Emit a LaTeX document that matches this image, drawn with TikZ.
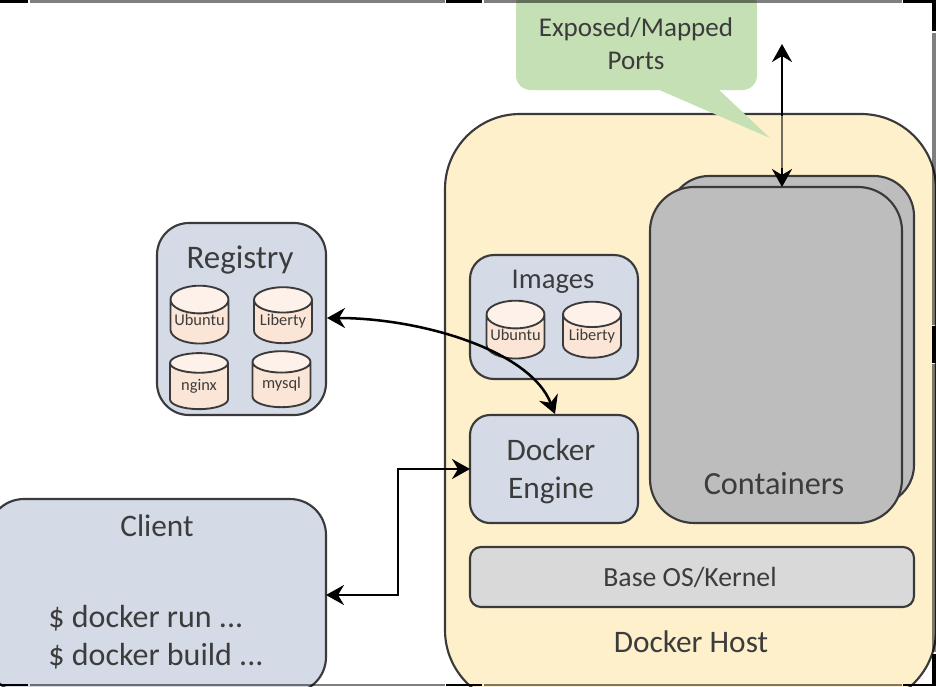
\documentclass[tikz,border=0pt]{standalone}
\usepackage{fontspec}
\setmainfont{Carlito}
\usetikzlibrary{arrows.meta,shapes.geometric,positioning}
\definecolor{hostc}{HTML}{FFF0CC}
\definecolor{bluec}{HTML}{D5DBE6}
\definecolor{peachc}{HTML}{FBE5D6}
\definecolor{peachl}{HTML}{FDF1EA}
\definecolor{greenc}{HTML}{C5E0B4}
\definecolor{contc}{HTML}{BDBDBD}
\definecolor{basec}{HTML}{D9D9D9}
\definecolor{linec}{HTML}{3A3A3A}
\definecolor{textc}{HTML}{3C3C3C}
\newcommand{\dbtext}[1]{\raisebox{3pt}{#1}}
\tikzset{
  x=0.75pt,y=-0.75pt,
  base/.style={draw=linec,line width=1.6pt,text=textc,inner sep=0pt,align=center},
  box/.style n args={4}{base,rectangle,fill=#1,minimum width=#2*0.75pt,minimum height=#3*0.75pt,rounded corners=#4*0.75pt},
  db/.style={base,cylinder,shape border rotate=90,aspect=0.55,cylinder uses custom fill,
     cylinder body fill=peachc,cylinder end fill=peachl,minimum width=58*0.75pt,minimum height=56*0.75pt,
     font=\fontsize{12.3pt}{13pt}\selectfont,line width=1.4pt},
  lbl/.style={text=textc,inner sep=0pt,align=center},
  big/.style={font=\fontsize{23.5pt}{28.5pt}\selectfont},
  conn/.style={draw=black,line width=1.9pt,{Stealth[length=13.5pt,width=15pt,inset=4.5pt]}-{Stealth[length=13.5pt,width=15pt,inset=4.5pt]}},
  frame/.style={fill=black,opacity=0.5},
  handle/.style={fill=black},
}
\begin{document}
\begin{tikzpicture}
\useasboundingbox (0,0) rectangle (936,686);
\clip (0,0) rectangle (936,686);
\fill[white] (0,0) rectangle (936,686);

% host
\node[box={hostc}{491}{591}{75}] (host) at (690.5,409.5) {};
\node[lbl,big] (hosttxt) at (691,642) {Docker Host};

% callout
\coordinate (tailA) at (657,89);
\coordinate (tailB) at (770,138);
\coordinate (tailC) at (718,89);
\fill[greenc] (tailA) -- (tailB) -- (tailC) -- cycle;
\node[rectangle,fill=greenc,rounded corners=11pt,minimum width=241*0.75pt,minimum height=100*0.75pt,inner sep=0pt] (callout) at (636.5,40) {};
\node[lbl,font=\fontsize{20.3pt}{25pt}\selectfont] (callouttxt) at (636,44) {Exposed/Mapped\\Ports};

% containers
\node[box={contc}{245}{329}{40}] (contback) at (791.5,340.5) {};
\node[box={contc}{252}{336}{44}] (contfront) at (776,355) {};
\node[lbl,font=\fontsize{24.2pt}{28pt}\selectfont] (conttxt) at (774,484) {Containers};

% base
\node[box={basec}{444}{60}{11}] (baseos) at (692,577) {};
\node[lbl,font=\fontsize{20.8pt}{24pt}\selectfont] (basetxt) at (690,577) {Base OS/Kernel};

% images
\node[box={bluec}{168}{124}{24}] (images) at (554,317) {};
\node[lbl,font=\fontsize{21.5pt}{24pt}\selectfont] (imagestxt) at (553,282) {Images};
\node[db] (imgU) at (515.5,337) {\dbtext{Ubuntu}};
\node[db] (imgL) at (592,336.5) {\dbtext{Liberty}};

% engine
\node[box={bluec}{168}{108}{20}] (engine) at (554,469) {};
\node[lbl,big] (enginetxt) at (551,471) {Docker\\Engine};

% registry
\node[box={bluec}{169}{192}{32}] (registry) at (241.5,319) {};
\node[lbl,font=\fontsize{24.7pt}{28pt}\selectfont] (regtxt) at (240,260) {Registry};
\node[db] (regU) at (199.5,322) {\dbtext{Ubuntu}};
\node[db] (regL) at (283,322) {\dbtext{Liberty}};
\node[db] (regN) at (199,386.5) {\dbtext{nginx}};
\node[db] (regM) at (281.5,385) {\dbtext{mysql}};

% client
\node[box={bluec}{338}{194}{36}] (client) at (157,596) {};
\node[lbl,big] (clienttxt) at (157,526) {Client};
\node[lbl,font=\fontsize{24pt}{28.5pt}\selectfont,align=left] (clientcmd) at (156,637) {\$ docker run ...\\\$ docker build ...};

% connectors
\coordinate (portTop) at (782,44);
\coordinate (portBot) at (782,187);
\draw[conn] (portTop) -- (portBot);
\fill[hostc,opacity=0.45] (779.5,116) rectangle (784.5,168);

\coordinate (engineIn) at (470,469);
\coordinate (clientIn) at (326,595);
\draw[conn] (clientIn) -- (398,595) -- (398,469) -- (engineIn);

\coordinate (regIn) at (327,318);
\coordinate (engTop) at (555,414);
\draw[conn] (regIn) .. controls (420,318) and (530,350) .. (engTop);

% selection frame
\fill[frame] (30,0) rectangle (445,2.5);
\fill[frame] (484,0) rectangle (902,2.5);
\fill[frame] (30,684) rectangle (445,686);
\fill[frame] (484,684) rectangle (902,686);
\fill[frame] (932,33) rectangle (936,325);
\fill[frame] (932,364) rectangle (936,652);
\fill[handle] (0,0) rectangle (28,2.5);
\fill[handle] (446,0) rectangle (482,2.5);
\fill[handle] (903,0) rectangle (936,2.5);
\fill[handle] (932,0) rectangle (936,31);
\fill[handle] (932,326) rectangle (936,363);
\fill[handle] (932,654) rectangle (936,686);
\fill[handle] (0,684) rectangle (28,686);
\fill[handle] (446,684) rectangle (482,686);
\fill[handle] (903,684) rectangle (936,686);
\end{tikzpicture}
\end{document}
